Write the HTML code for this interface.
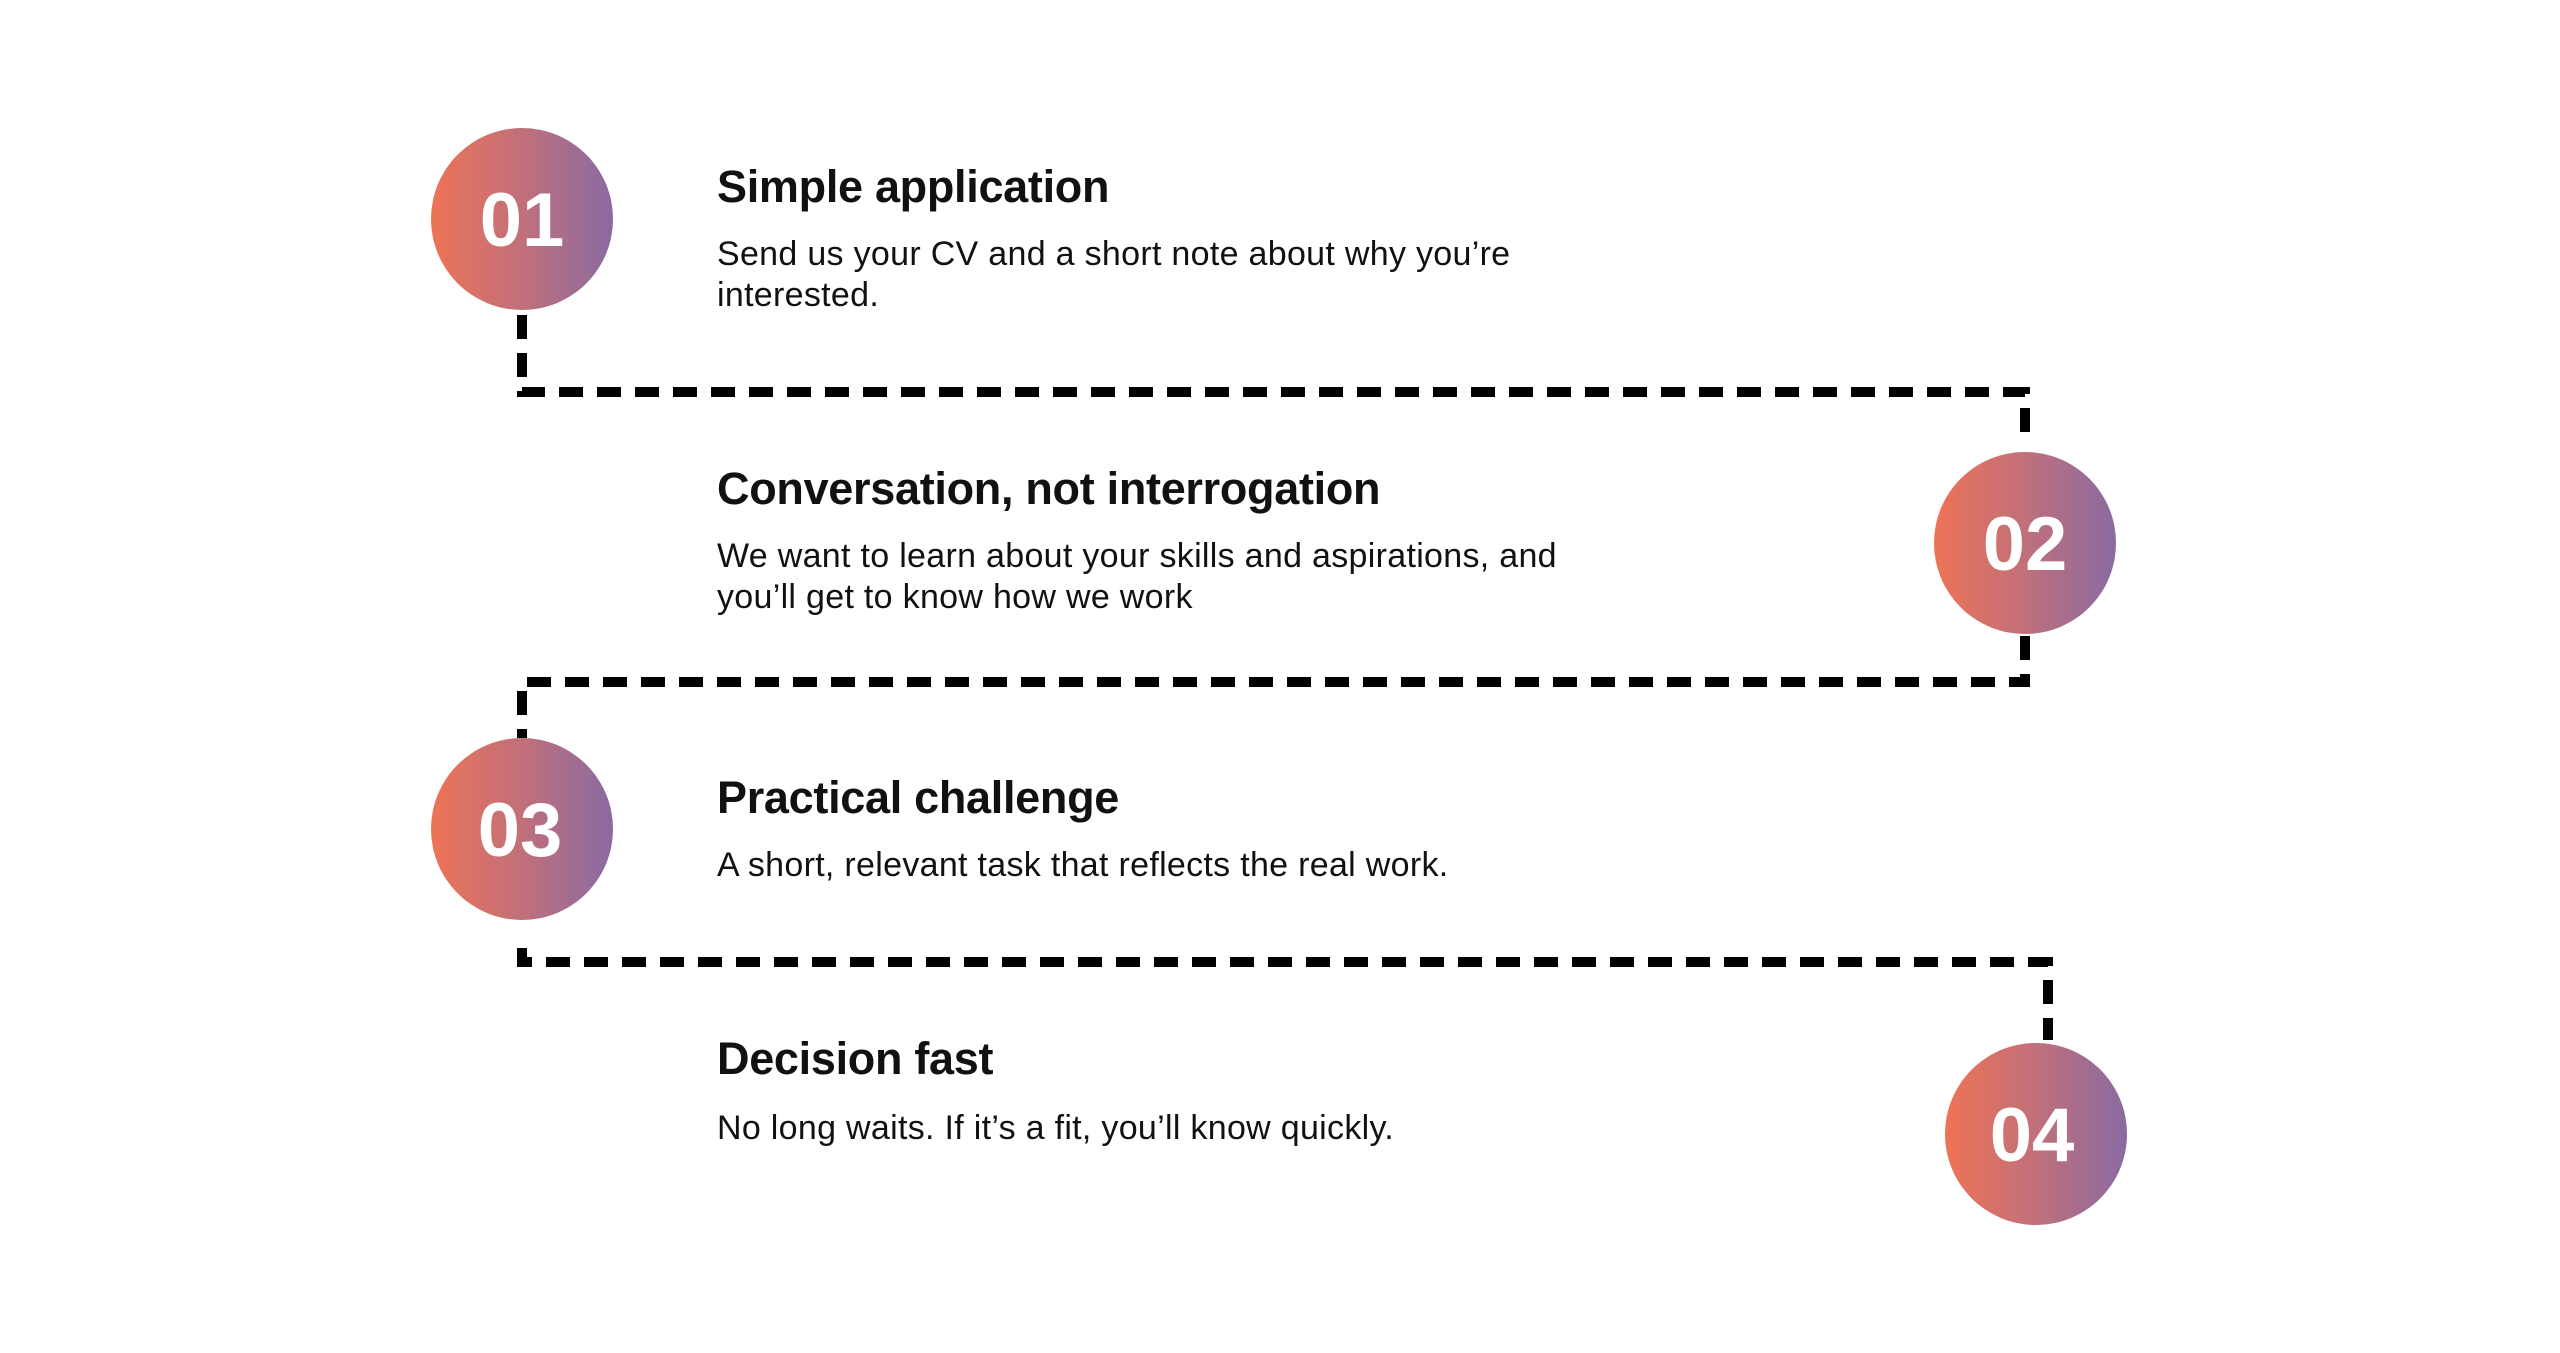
<!DOCTYPE html>
<html><head><meta charset="utf-8"><style>
html,body{margin:0;padding:0;background:#fff;}
body{width:2560px;height:1353px;position:relative;overflow:hidden;font-family:"Liberation Sans",sans-serif;color:#111;}
.t{position:absolute;left:717px;font-size:45px;font-weight:bold;letter-spacing:-0.3px;white-space:nowrap;}
.b{position:absolute;left:717px;font-size:34px;letter-spacing:0.3px;line-height:41px;white-space:nowrap;}
</style></head><body>
<svg width="2560" height="1353" style="position:absolute;left:0;top:0">
<defs><linearGradient id="g" x1="0" x2="1" y1="0" y2="0"><stop offset="0" stop-color="#ee7356"/><stop offset="0.5" stop-color="#c0707a"/><stop offset="1" stop-color="#8a6aa2"/></linearGradient></defs>
<g fill="none" stroke="#000" stroke-width="10" stroke-dasharray="24 14">
<path d="M522 315 V392 H2025 V446"/>
<path d="M2025 636 V682 H522 V738"/>
<path d="M522 948 V962 H2048 V1040"/>
</g>
<g font-family="Liberation Sans,sans-serif" font-weight="bold" font-size="76" fill="#fff" text-anchor="middle">
<circle cx="522" cy="219" r="91" fill="url(#g)"/><text x="522" y="246">01</text>
<circle cx="2025" cy="543" r="91" fill="url(#g)"/><text x="2025" y="570">02</text>
<circle cx="522" cy="829" r="91" fill="url(#g)"/><text x="520" y="856">03</text>
<circle cx="2036" cy="1134" r="91" fill="url(#g)"/><text x="2032" y="1161">04</text>
</g>
</svg>
<div class="t" style="top:161px">Simple application</div>
<div class="b" style="top:234px">Send us your CV and a short note about why you’re<br>interested.</div>
<div class="t" style="top:463px">Conversation, not interrogation</div>
<div class="b" style="top:536px">We want to learn about your skills and aspirations, and<br>you’ll get to know how we work</div>
<div class="t" style="top:772px">Practical challenge</div>
<div class="b" style="top:845px">A short, relevant task that reflects the real work.</div>
<div class="t" style="top:1033px">Decision fast</div>
<div class="b" style="top:1108px">No long waits. If it’s a fit, you’ll know quickly.</div>
</body></html>
